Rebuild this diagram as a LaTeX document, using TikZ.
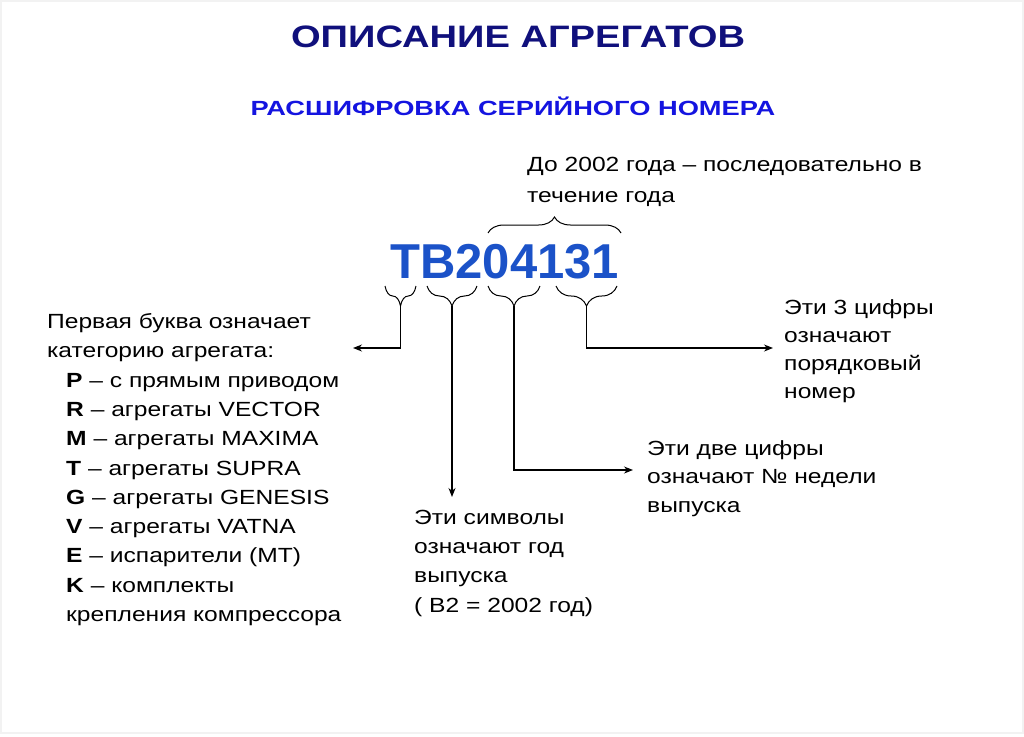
\documentclass[tikz,border=0pt]{standalone}
\usepackage{fontspec}
\setmainfont[FakeStretch=1.2]{Liberation Sans}
\newfontfamily\fonteserie{Liberation Sans}
\newfontfamily\fontetitulo[FakeStretch=1.23]{Liberation Sans}
\newfontfamily\fontesub[FakeStretch=1.33]{Liberation Sans}
\usepackage{xcolor}
\usetikzlibrary{arrows.meta, positioning, decorations.pathreplacing}

\definecolor{azulescuro}{HTML}{10107C}
\definecolor{azul}{HTML}{1414E0}
\definecolor{azulserie}{HTML}{1B52C8}

\begin{document}
\begin{tikzpicture}[
        x=1pt, y=-1pt,
        texto/.style={anchor=base west, inner sep=0pt, align=left, font=\fontsize{20.5}{29.3}\selectfont},
        chave/.style={decorate, decoration={brace, mirror, amplitude=#1}, line width=1pt},
        seta/.style={-{Stealth[length=9pt, width=7pt]}, line width=1.2pt}
    ]
        \useasboundingbox (0,0) rectangle (1024,736);
        \draw[black!5, line width=1.5pt] (1,1) rectangle (1023,733);

        % Títulos
        \node[anchor=base, inner sep=0pt, text=azulescuro, font=\fontetitulo\fontsize{31}{36}\selectfont\bfseries] (titulo) at (518,47) {ОПИСАНИЕ АГРЕГАТОВ};
        \node[anchor=base, inner sep=0pt, text=azul, font=\fontesub\fontsize{20.5}{24}\selectfont\bfseries] (subtitulo) at (513,115) {РАСШИФРОВКА СЕРИЙНОГО НОМЕРА};

        % Número de série
        \node[anchor=base west, inner sep=0pt, text=azulserie, font=\fonteserie\fontsize{49}{56}\selectfont\bfseries] (serie) at (390,278) {TB204131};

        % Chaves
        \draw[chave=16pt, decoration={mirror=false}] (488,233) -- (621,233);
        \draw[chave=20pt] (385,286) -- (416,286);
        \draw[chave=20pt] (427,286) -- (477,286);
        \draw[chave=20pt] (488,286) -- (540,286);
        \draw[chave=20pt] (556,286) -- (617,286);
        \coordinate (pCat) at (400.5,306);
        \coordinate (pAno) at (452,306);
        \coordinate (pSemana) at (514,306);
        \coordinate (pNum) at (586.5,306);

        % Textos (ancorados na linha de base da última linha)
        \node[texto, font=\fontsize{20.5}{31}\selectfont] (antes) at (527,202) {До 2002 года – последовательно в\\течение года};
        \node[texto] (categoria) at (47,621.5) {Первая буква означает\\категорию агрегата:\\
            \hspace*{19pt}\textbf{P} – с прямым приводом\\
            \hspace*{19pt}\textbf{R} – агрегаты VECTOR\\
            \hspace*{19pt}\textbf{M} – агрегаты MAXIMA\\
            \hspace*{19pt}\textbf{T} – агрегаты SUPRA\\
            \hspace*{19pt}\textbf{G} – агрегаты GENESIS\\
            \hspace*{19pt}\textbf{V} – агрегаты VATNA\\
            \hspace*{19pt}\textbf{E} – испарители (MT)\\
            \hspace*{19pt}\textbf{K} – комплекты\\
            \hspace*{19pt}крепления компрессора};
        \node[texto] (ano) at (414,612) {Эти символы\\означают год\\выпуска\\( B2 = 2002 год)};
        \node[texto, font=\fontsize{20.5}{28.5}\selectfont] (semana) at (647,512) {Эти две цифры\\означают № недели\\выпуска};
        \node[texto, font=\fontsize{20.5}{28}\selectfont] (numero) at (784,398) {Эти 3 цифры\\означают\\порядковый\\номер};

        % Setas
        \coordinate (fimCat) at (353,348);
        \coordinate (fimAno) at (452,497);
        \coordinate (fimSemana) at (633,470);
        \coordinate (fimNum) at (773,348);
        \draw[seta] (pCat) |- (fimCat);
        \draw[seta] (pAno) -- (fimAno);
        \draw[seta] (pSemana) |- (fimSemana);
        \draw[seta] (pNum) |- (fimNum);
    \end{tikzpicture}
\end{document}
